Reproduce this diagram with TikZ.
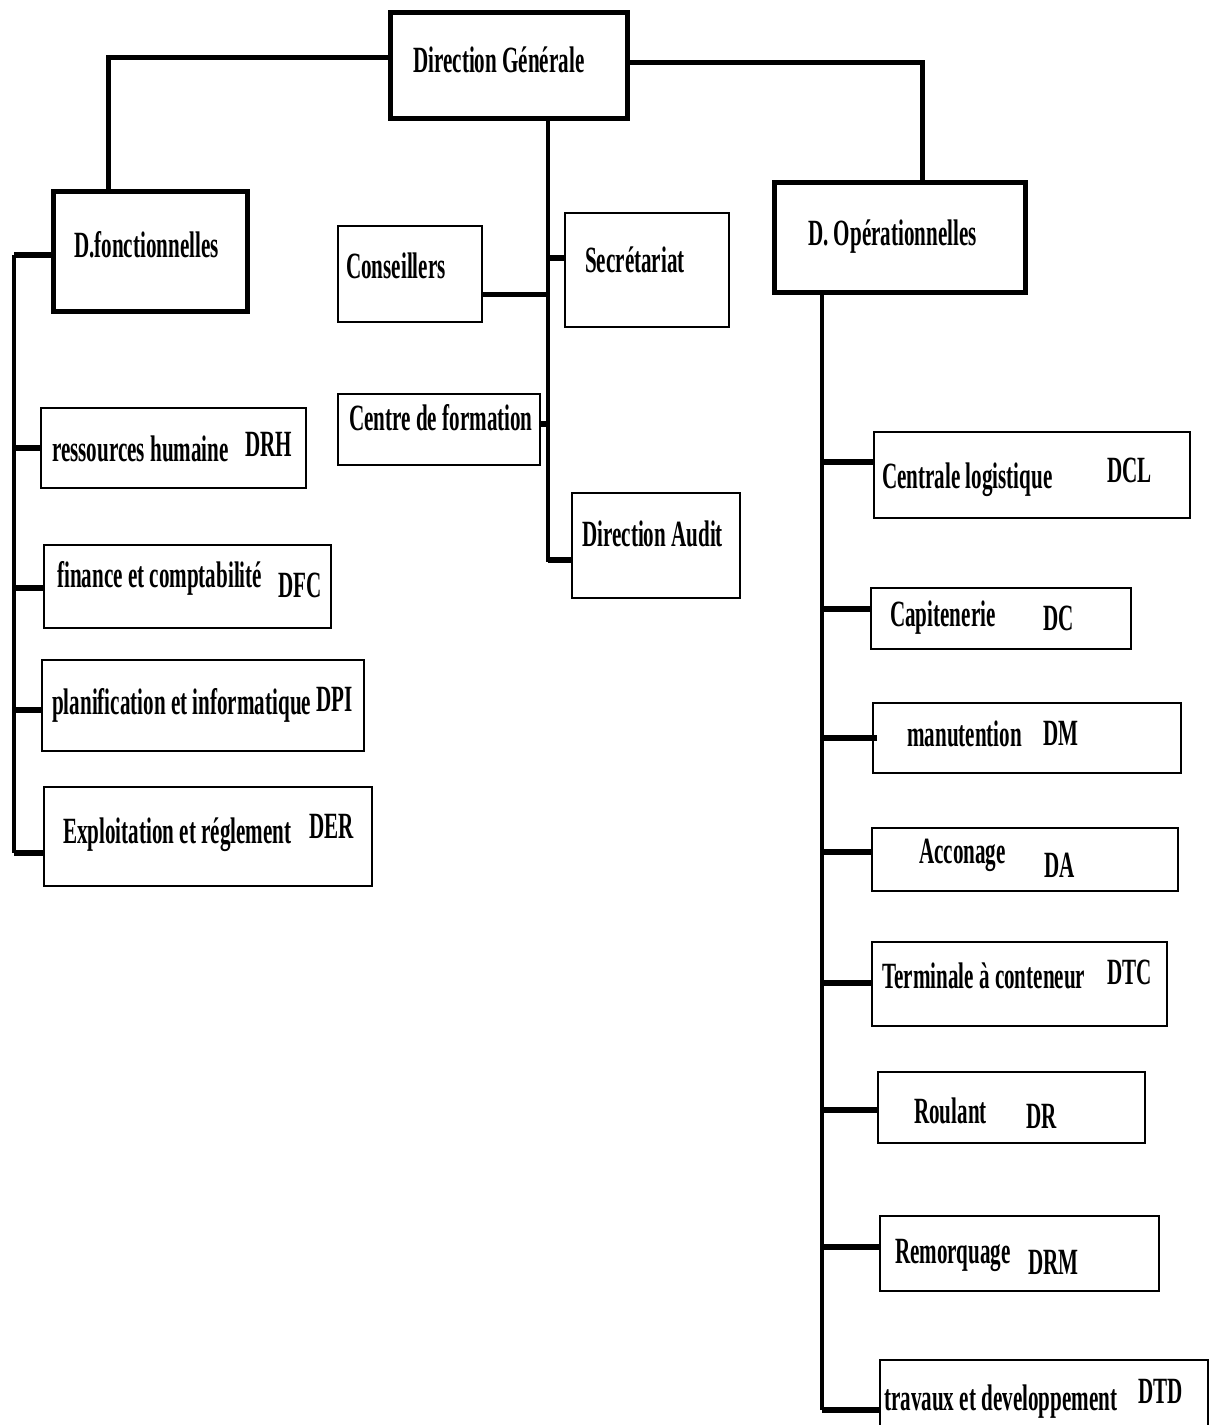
\documentclass[tikz,border=0pt]{standalone}
\usepackage{fontspec}
\setmainfont{Liberation Serif}[FakeStretch=0.57]
\begin{document}
\begin{tikzpicture}[x=1pt,y=-1pt,
  thinbox/.style={draw, line width=1.8pt, inner sep=0pt, outer sep=0pt, anchor=north west},
  thickbox/.style={draw, line width=5pt, inner sep=0pt, outer sep=0pt, anchor=north west},
  lbl/.style={anchor=base west, inner sep=0pt, font=\fontsize{37}{40}\selectfont\bfseries},
  conn/.style={line width=5pt},
  stub/.style={line width=6pt},
  spine/.style={line width=4pt}]
\useasboundingbox (0,0) rectangle (1210,1425);
% boxes
\node[thickbox, minimum width=237pt, minimum height=106pt] (dg) at (390,12) {};
\node[thickbox, minimum width=194pt, minimum height=120pt] (dfonc) at (53,191) {};
\node[thickbox, minimum width=251pt, minimum height=110pt] (dop) at (774,182) {};
\node[thinbox, minimum width=144pt, minimum height=96pt] (cons) at (338,226) {};
\node[thinbox, minimum width=164pt, minimum height=114pt] (secr) at (565,213) {};
\node[thinbox, minimum width=202pt, minimum height=71pt] (cform) at (338,394) {};
\node[thinbox, minimum width=168pt, minimum height=105pt] (audit) at (572,493) {};
\node[thinbox, minimum width=265pt, minimum height=80pt] (drh) at (41,408) {};
\node[thinbox, minimum width=287pt, minimum height=83pt] (dfc) at (44,545) {};
\node[thinbox, minimum width=322pt, minimum height=91pt] (dpi) at (42,660) {};
\node[thinbox, minimum width=328pt, minimum height=99pt] (der) at (44,787) {};
\node[thinbox, minimum width=316pt, minimum height=86pt] (dcl) at (874,432) {};
\node[thinbox, minimum width=260pt, minimum height=61pt] (dc) at (871,588) {};
\node[thinbox, minimum width=308pt, minimum height=70pt] (dm) at (873,703) {};
\node[thinbox, minimum width=306pt, minimum height=63pt] (da) at (872,828) {};
\node[thinbox, minimum width=295pt, minimum height=84pt] (dtc) at (872,942) {};
\node[thinbox, minimum width=267pt, minimum height=71pt] (dr) at (878,1072) {};
\node[thinbox, minimum width=279pt, minimum height=75pt] (drm) at (880,1216) {};
\node[thinbox, minimum width=328pt, minimum height=72pt] (dtd) at (880,1360) {};
% texts
\node[lbl] (tdg) at (413,72) {Direction Générale};
\node[lbl] (tdf) at (74,257) {D.fonctionnelles};
\node[lbl] (tdo) at (808,245) {D. Opérationnelles};
\node[lbl] (tcons) at (346,278) {Conseillers};
\node[lbl] (tsecr) at (585,272) {Secrétariat};
\node[lbl] (tcf) at (349,430) {Centre de formation};
\node[lbl] (tau) at (582,546) {Direction Audit};
\node[lbl] (trh) at (52,461) {ressources humaine};
\node[lbl] (arh) at (245,456) {DRH};
\node[lbl] (tfc) at (57,587) {finance et comptabilité};
\node[lbl] (afc) at (278,597) {DFC};
\node[lbl] (tpi) at (52,714) {planification et informatique};
\node[lbl] (api) at (316,711) {DPI};
\node[lbl] (ter) at (63,843) {Exploitation et réglement};
\node[lbl] (aer) at (309,838) {DER};
\node[lbl] (tcl) at (882,488) {Centrale logistique};
\node[lbl] (acl) at (1107,482) {DCL};
\node[lbl] (tc) at (890,626) {Capitenerie};
\node[lbl] (ac) at (1043,630) {DC};
\node[lbl] (tm) at (907,746) {manutention};
\node[lbl] (am) at (1043,745) {DM};
\node[lbl] (ta) at (919,863) {Acconage};
\node[lbl] (aa) at (1044,877) {DA};
\node[lbl] (ttc) at (882,988) {Terminale à conteneur};
\node[lbl] (atc) at (1107,984) {DTC};
\node[lbl] (tr) at (914,1123) {Roulant};
\node[lbl] (ar) at (1026,1128) {DR};
\node[lbl] (trm) at (895,1263) {Remorquage};
\node[lbl] (arm) at (1028,1274) {DRM};
\node[lbl] (ttd) at (884,1410) {travaux et developpement};
\node[lbl] (atd) at (1138,1403) {DTD};
% connector points
\coordinate (dgL) at ([yshift=8pt]dg.west);
\coordinate (dfT) at ([xshift=-42pt]dfonc.north);
\coordinate (dgR) at ([yshift=3pt]dg.east);
\coordinate (doT) at ([xshift=22.5pt]dop.north);
\coordinate (cv) at ([xshift=39.5pt]dg.south);
\coordinate (auS) at ([yshift=-14.5pt]audit.west);
\coordinate (coS) at ([yshift=-20pt]cons.east);
\coordinate (seS) at ([yshift=12pt]secr.west);
\coordinate (cfS) at ([yshift=5.5pt]cform.east);
\coordinate (lsp) at (14,0);
\coordinate (dfS) at ([yshift=-4pt]dfonc.west);
\coordinate (rhS) at (drh.west);
\coordinate (fcS) at ([yshift=-1.5pt]dfc.west);
\coordinate (piS) at ([yshift=-4.5pt]dpi.west);
\coordinate (erS) at ([yshift=-16.5pt]der.west);
\coordinate (rsp) at ([xshift=-77.5pt]dop.south);
\coordinate (clS) at ([yshift=13pt]dcl.west);
\coordinate (cS) at ([yshift=9.5pt]dc.west);
\coordinate (mS) at ([xshift=4pt]dm.west);
\coordinate (aS) at ([yshift=7.5pt]da.west);
\coordinate (tcS) at ([yshift=1pt]dtc.west);
\coordinate (rS) at ([yshift=-2.5pt]dr.west);
\coordinate (rmS) at ([yshift=6.5pt]drm.west);
\coordinate (tdS) at ([yshift=-14pt]dtd.west);
% top connectors
\draw[conn] (dgL) -| (dfT);
\draw[conn] (dgR) -| (doT);
% centre
\draw[spine] (cv) |- (auS);
\draw[stub] (auS) -- (auS -| cv);
\draw[conn] (coS) -- (coS -| cv);
\draw[stub] (seS) -- (seS -| cv);
\draw[stub] (cfS) -- (cfS -| cv);
% left spine
\draw[spine] (dfS -| lsp) -- (erS -| lsp);
\draw[stub] (dfS) -- (dfS -| lsp);
\draw[stub] (rhS) -- (rhS -| lsp);
\draw[stub] (fcS) -- (fcS -| lsp);
\draw[stub] (piS) -- (piS -| lsp);
\draw[stub] (erS) -- (erS -| lsp);
% right spine
\draw[spine] (rsp) -- (tdS -| rsp);
\draw[stub] (clS) -- (clS -| rsp);
\draw[stub] (cS) -- (cS -| rsp);
\draw[stub] (mS) -- (mS -| rsp);
\draw[stub] (aS) -- (aS -| rsp);
\draw[stub] (tcS) -- (tcS -| rsp);
\draw[stub] (rS) -- (rS -| rsp);
\draw[stub] (rmS) -- (rmS -| rsp);
\draw[stub] (tdS) -- (tdS -| rsp);
\end{tikzpicture}
\end{document}
